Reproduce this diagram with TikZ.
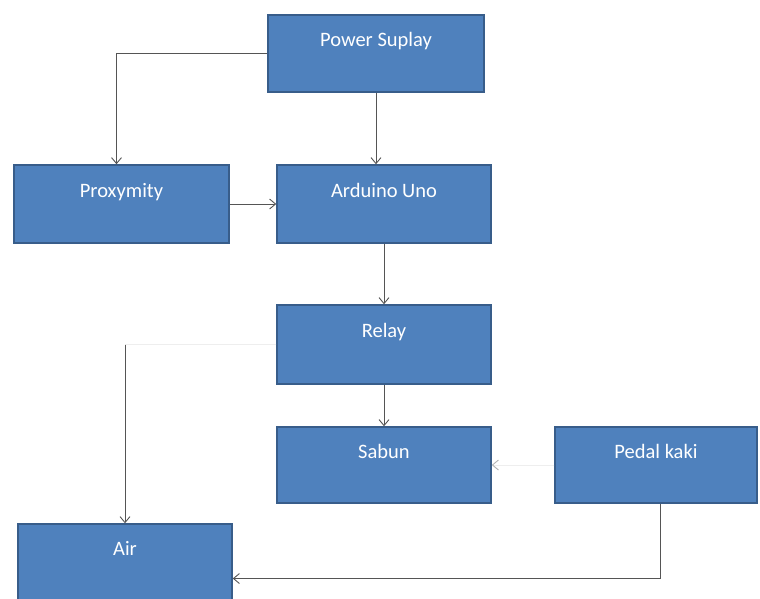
\documentclass[tikz,border=0pt]{standalone}
\usepackage{fontspec}
\setmainfont{Carlito}
\usetikzlibrary{arrows.meta}
\definecolor{boxfill}{HTML}{4F81BD}
\definecolor{boxline}{HTML}{385D8A}
\definecolor{wirecol}{HTML}{555555}
\definecolor{faintcol}{HTML}{EEEEEE}
\tikzstyle{block}=[rectangle, draw=boxline, fill=boxfill, line width=1.5pt, minimum width=214pt, minimum height=77pt, inner sep=0pt, text=white, font=\fontsize{20.5}{24}\selectfont, text height=15pt, text depth=29pt]
\tikzstyle{link}=[draw=wirecol, line width=0.9pt, ->]
\tikzstyle{faint}=[draw=faintcol, line width=0.9pt]

\begin{document}
\begin{tikzpicture}[x=1pt, y=-1pt, >={Straight Barb[length=6pt, width=10pt]}]
                \useasboundingbox (0, 0) rectangle (760, 598);
                \clip (0, 0) rectangle (760, 598);
                \node[block, minimum width=216pt] (pwr) at (376, 53.5) {Power Suplay};
                \node[block, minimum width=215pt, minimum height=78pt] (prox) at (121.5, 204) {Proxymity};
                \node[block, minimum height=78pt] (ard) at (384, 204) {Arduino Uno};
                \node[block, minimum height=79pt] (relay) at (384, 344.5) {Relay};
                \node[block, minimum height=76pt] (sabun) at (384, 465) {Sabun};
                \node[block, minimum width=202pt, minimum height=76pt] (pedal) at (656, 465) {Pedal kaki};
                \node[block] (air) at (125, 562.5) {Air};
                \coordinate (bend) at (air.north |- relay.west);
                \draw[link]  (pwr.west) -| ([xshift=-5pt]prox.north);
                \draw[link]  (pwr.south) -- (pwr.south |- ard.north);
                \draw[link]  (prox.east) -- (ard.west);
                \draw[link]  (ard.south) -- (relay.north);
                \draw[link]  (relay.south) -- (sabun.north);
                \draw[faint] (relay.west) -- (bend);
                \draw[link]  (bend) -- (air.north);
                \draw[faint, -{Straight Barb[length=6pt, width=10pt, color=wirecol!45]}] (pedal.west) -- (sabun.east);
                \draw[link]  ([xshift=4pt]pedal.south) |- ([yshift=-16pt]air.east);
            \end{tikzpicture}
\end{document}
